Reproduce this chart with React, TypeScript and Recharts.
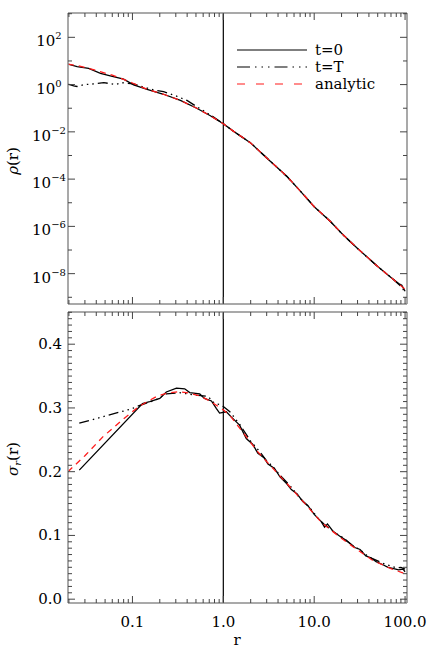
import { LineChart, Line, XAxis, YAxis, ReferenceLine } from 'recharts';

// ---- axes ----
const X_DOMAIN = [0.01954, 105];
const X_MAJOR = [0.1, 1, 10, 100];
const X_TICKS = [
  0.02, 0.03, 0.04, 0.05, 0.06, 0.07, 0.08, 0.09,
  0.1, 0.2, 0.3, 0.4, 0.5, 0.6, 0.7, 0.8, 0.9,
  1, 2, 3, 4, 5, 6, 7, 8, 9,
  10, 20, 30, 40, 50, 60, 70, 80, 90, 100,
];
const RHO_DOMAIN = [5.2e-10, 1070];
const RHO_TICKS = [1e-9, 1e-8, 1e-7, 1e-6, 1e-5, 1e-4, 1e-3, 1e-2, 1e-1, 1, 10, 100, 1000];
const RHO_LABELED = [1e-8, 1e-6, 1e-4, 1e-2, 1, 100];
const SIG_DOMAIN = [-0.006, 0.4505];
const SIG_MAJOR = [0, 0.1, 0.2, 0.3, 0.4];
const SIG_TICKS = Array.from({ length: 46 }, (_, i) => i / 100);

// ---- density, top panel ----
const rhoInitR = [0.0195, 0.0246, 0.033, 0.0445, 0.057, 0.08, 0.103, 0.145, 0.22, 0.337, 0.51, 0.72, 1, 1.3, 2, 3, 5, 7, 10, 15, 20, 30, 50, 70, 85, 92, 100];
const rhoInit = [7.4, 5.75, 4.9, 3.0, 2.35, 1.7, 0.98, 0.63, 0.39, 0.214, 0.1, 0.048, 0.022, 0.0105, 3.4e-3, 7.9e-4, 1.32e-4, 3.2e-5, 6.8e-6, 1.66e-6, 5.1e-7, 1.17e-7, 2.0e-8, 6.9e-9, 3.8e-9, 3.2e-9, 1.8e-9];

const rhoFinalR = [0.0195, 0.0226, 0.0246, 0.0292, 0.0376, 0.0484, 0.057, 0.065, 0.077, 0.103, 0.133, 0.171, 0.22, 0.309, 0.398, 0.51, 0.72, 1, 1.3, 2, 3, 5, 7, 10, 15, 20, 30, 50, 70, 85, 95, 100];
const rhoFinal = [1.05, 0.89, 0.83, 1.0, 1.07, 1.2, 1.1, 1.0, 1.2, 1.07, 0.78, 0.6, 0.5, 0.32, 0.214, 0.117, 0.052, 0.0224, 0.0105, 3.4e-3, 8.0e-4, 1.3e-4, 3.2e-5, 6.9e-6, 1.65e-6, 5.0e-7, 1.15e-7, 2.0e-8, 7.0e-9, 3.6e-9, 2.2e-9, 1.5e-9];

const rhoAnaR = [0.0195, 0.025, 0.033, 0.045, 0.06, 0.08, 0.1, 0.145, 0.22, 0.337, 0.51, 0.72, 1, 1.3, 2, 3, 5, 7, 10, 15, 20, 30, 50, 70, 100];
const rhoAna = [7.4, 6.3, 4.9, 3.45, 2.5, 1.66, 1.17, 0.63, 0.39, 0.214, 0.1, 0.048, 0.022, 0.0105, 3.4e-3, 7.9e-4, 1.32e-4, 3.2e-5, 6.8e-6, 1.66e-6, 5.1e-7, 1.17e-7, 2.0e-8, 6.9e-9, 2.2e-9];

// ---- radial dispersion, bottom panel ----
const sigInitR = [0.026, 0.129, 0.155, 0.2, 0.236, 0.305, 0.376, 0.427, 0.55, 0.62, 0.74, 0.84, 0.91, 1.08, 1.22, 1.51, 1.79, 2.1, 2.4, 2.8, 3.1, 3.66, 4.2, 5, 5.6, 6.5, 7.5, 8.5, 10, 11.9, 13, 14, 16, 19, 22, 24.4, 28, 32, 37, 42, 48, 57, 65, 75, 85, 95, 100];
const sigInit = [0.2025, 0.307, 0.31, 0.315, 0.325, 0.331, 0.33, 0.324, 0.322, 0.315, 0.311, 0.299, 0.292, 0.294, 0.286, 0.273, 0.252, 0.243, 0.229, 0.222, 0.212, 0.205, 0.192, 0.181, 0.172, 0.165, 0.153, 0.147, 0.133, 0.122, 0.113, 0.118, 0.107, 0.099, 0.093, 0.088, 0.081, 0.078, 0.068, 0.065, 0.059, 0.054, 0.05, 0.048, 0.046, 0.047, 0.043];

const sigFinalR = [0.026, 0.1, 0.11, 0.183, 0.236, 0.33, 0.5, 0.68, 0.8, 0.95, 1.18, 1.5, 2, 2.5, 3, 3.5, 4.5, 5.5, 7, 9, 11, 13, 17, 21, 26, 33, 40, 50, 60, 70, 80, 90, 100];
const sigFinal = [0.276, 0.299, 0.302, 0.313, 0.322, 0.324, 0.32, 0.318, 0.307, 0.305, 0.294, 0.275, 0.248, 0.232, 0.217, 0.208, 0.19, 0.177, 0.158, 0.143, 0.127, 0.117, 0.104, 0.096, 0.085, 0.076, 0.066, 0.06, 0.055, 0.052, 0.049, 0.05, 0.047];

const sigAnaR = [0.0195, 0.03, 0.0475, 0.08, 0.12, 0.184, 0.236, 0.33, 0.43, 0.55, 0.71, 1, 1.2, 1.58, 2.4, 3.66, 5.59, 8.5, 11.9, 18.9, 27, 43.8, 70, 100];
const sigAna = [0.2, 0.225, 0.255, 0.283, 0.303, 0.318, 0.323, 0.3255, 0.323, 0.319, 0.311, 0.297, 0.287, 0.265, 0.231, 0.2025, 0.174, 0.145, 0.121, 0.098, 0.082, 0.061, 0.048, 0.04];

const pts = (rs: number[], vs: number[]) => rs.map((r, i) => ({ r, v: vs[i] }));

const FONT = '"DejaVu Serif", serif';
const FRAME = '#8c8c8c';
const TICK = '#444';
const RED = '#ff1a1a';
const DASH_T = '10 4 1.5 4 1.5 4 1.5 4';
const DASH_A = '6 5';

function XTick(props: any) {
  const { x, y, payload, side, labels } = props;
  const major = X_MAJOR.includes(payload.value);
  const dir = side === 'bottom' ? -1 : 1;
  return (
    <g>
      <line x1={x} x2={x} y1={y} y2={y + dir * (major ? 7 : 4)} stroke={TICK} />
      {labels && major && (
        <text x={x} y={y + 24} textAnchor="middle" fontSize={15} fontFamily={FONT} fill="#000">
          {payload.value.toFixed(1)}
        </text>
      )}
    </g>
  );
}

function RhoTick(props: any) {
  const { x, y, payload, side } = props;
  const v = payload.value;
  const major = RHO_LABELED.some((m) => Math.abs(Math.log10(m) - Math.log10(v)) < 0.01);
  const dir = side === 'left' ? 1 : -1;
  const exp = Math.round(Math.log10(v));
  return (
    <g>
      <line x1={x} x2={x + dir * (major ? 7 : 4)} y1={y} y2={y} stroke={TICK} />
      {side === 'left' && major && (
        <text x={49} y={y + 9} textAnchor="middle" fontSize={15} fontFamily={FONT} fill="#000">
          10
          <tspan dy={-7} fontSize={10}>{exp < 0 ? '\u2212' + -exp : String(exp)}</tspan>
        </text>
      )}
    </g>
  );
}

function SigTick(props: any) {
  const { x, y, payload, side } = props;
  const v = payload.value;
  const major = SIG_MAJOR.some((m) => Math.abs(m - v) < 1e-6);
  const dir = side === 'left' ? 1 : -1;
  return (
    <g>
      <line x1={x} x2={x + dir * (major ? 7 : 4)} y1={y} y2={y} stroke={TICK} />
      {side === 'left' && major && (
        <text x={62} y={y + 5} textAnchor="end" fontSize={15} fontFamily={FONT} fill="#000">
          {v.toFixed(1)}
        </text>
      )}
    </g>
  );
}

const xAxes = (labels: boolean) => [
  <XAxis
    key="b"
    xAxisId="b"
    orientation="bottom"
    type="number"
    dataKey="r"
    scale="log"
    domain={X_DOMAIN}
    allowDataOverflow
    ticks={X_TICKS}
    interval={0}
    height={1}
    tickSize={0}
    tickMargin={0}
    tickLine={false}
    axisLine={{ stroke: FRAME, strokeWidth: 1.5 }}
    tick={(p: any) => <XTick {...p} side="bottom" labels={labels} />}
  />,
  <XAxis
    key="t"
    xAxisId="t"
    orientation="top"
    type="number"
    dataKey="r"
    scale="log"
    domain={X_DOMAIN}
    allowDataOverflow
    ticks={X_TICKS}
    interval={0}
    height={1}
    tickSize={0}
    tickMargin={0}
    tickLine={false}
    axisLine={{ stroke: FRAME, strokeWidth: 1.5 }}
    tick={(p: any) => <XTick {...p} side="top" labels={false} />}
  />,
];

export default function App() {
  return (
    <div style={{ position: 'absolute', left: 0, top: 0, width: 436, height: 654, background: '#fff', fontFamily: FONT }}>
      {/* density panel */}
      <div style={{ position: 'absolute', left: 0, top: 0 }}>
        <LineChart width={436} height={320} margin={{ top: 12, right: 28, bottom: 15, left: 0 }}>
          {xAxes(false)}
          <YAxis
            yAxisId="l"
            orientation="left"
            type="number"
            scale="log"
            domain={RHO_DOMAIN}
            allowDataOverflow
            ticks={RHO_TICKS}
            interval={0}
            width={68}
            tickSize={0}
            tickMargin={0}
            tickLine={false}
            axisLine={{ stroke: FRAME, strokeWidth: 1.5 }}
            tick={(p: any) => <RhoTick {...p} side="left" />}
          />
          <YAxis
            yAxisId="r"
            orientation="right"
            type="number"
            scale="log"
            domain={RHO_DOMAIN}
            allowDataOverflow
            ticks={RHO_TICKS}
            interval={0}
            width={1}
            tickSize={0}
            tickMargin={0}
            tickLine={false}
            axisLine={{ stroke: FRAME, strokeWidth: 1.5 }}
            tick={(p: any) => <RhoTick {...p} side="right" />}
          />
          <ReferenceLine xAxisId="b" yAxisId="l" x={1} stroke="#000" strokeWidth={1.2} />
          <Line xAxisId="b" yAxisId="l" data={pts(rhoInitR, rhoInit)} dataKey="v" type="linear" stroke="#000" strokeWidth={1.3} dot={false} isAnimationActive={false} />
          <Line xAxisId="b" yAxisId="l" data={pts(rhoFinalR, rhoFinal)} dataKey="v" type="linear" stroke="#000" strokeWidth={1.3} strokeDasharray={DASH_T} dot={false} isAnimationActive={false} />
          <Line xAxisId="b" yAxisId="l" data={pts(rhoAnaR, rhoAna)} dataKey="v" type="linear" stroke={RED} strokeWidth={1.3} strokeDasharray={DASH_A} dot={false} isAnimationActive={false} />

          {/* legend */}
          <g fontFamily={FONT} fontSize={15} fill="#000">
            <line x1={237} x2={307} y1={50} y2={50} stroke="#000" strokeWidth={1.2} />
            <text x={315} y={55}>t=0</text>
            <line x1={237} x2={307} y1={67} y2={67} stroke="#000" strokeWidth={1.2} strokeDasharray="13 5 1.5 5 1.5 5 1.5 5" />
            <text x={315} y={72}>t=T</text>
            <line x1={237} x2={307} y1={84} y2={84} stroke={RED} strokeWidth={1.2} strokeDasharray="8 11" />
            <text x={315} y={89}>analytic</text>
          </g>
          <text transform="translate(18,161) rotate(-90)" textAnchor="middle" fontFamily={FONT} fontSize={15} fill="#000">
            <tspan fontStyle="italic">ρ</tspan>(r)
          </text>
        </LineChart>
      </div>

      {/* dispersion panel */}
      <div style={{ position: 'absolute', left: 0, top: 308 }}>
        <LineChart width={436} height={346} margin={{ top: 3, right: 28, bottom: 50, left: 0 }}>
          {xAxes(true)}
          <YAxis
            yAxisId="l"
            orientation="left"
            type="number"
            domain={SIG_DOMAIN}
            allowDataOverflow
            ticks={SIG_TICKS}
            interval={0}
            width={68}
            tickSize={0}
            tickMargin={0}
            tickLine={false}
            axisLine={{ stroke: FRAME, strokeWidth: 1.5 }}
            tick={(p: any) => <SigTick {...p} side="left" />}
          />
          <YAxis
            yAxisId="r"
            orientation="right"
            type="number"
            domain={SIG_DOMAIN}
            allowDataOverflow
            ticks={SIG_TICKS}
            interval={0}
            width={1}
            tickSize={0}
            tickMargin={0}
            tickLine={false}
            axisLine={{ stroke: FRAME, strokeWidth: 1.5 }}
            tick={(p: any) => <SigTick {...p} side="right" />}
          />
          <ReferenceLine xAxisId="b" yAxisId="l" x={1} stroke="#000" strokeWidth={1.2} />
          <Line xAxisId="b" yAxisId="l" data={pts(sigInitR, sigInit)} dataKey="v" type="linear" stroke="#000" strokeWidth={1.3} dot={false} isAnimationActive={false} />
          <Line xAxisId="b" yAxisId="l" data={pts(sigFinalR, sigFinal)} dataKey="v" type="linear" stroke="#000" strokeWidth={1.3} strokeDasharray={DASH_T} dot={false} isAnimationActive={false} />
          <Line xAxisId="b" yAxisId="l" data={pts(sigAnaR, sigAna)} dataKey="v" type="linear" stroke={RED} strokeWidth={1.3} strokeDasharray={DASH_A} dot={false} isAnimationActive={false} />

          <text transform="translate(18,151) rotate(-90)" textAnchor="middle" fontFamily={FONT} fontSize={15} fill="#000">
            <tspan fontStyle="italic">σ</tspan>
            <tspan fontStyle="italic" fontSize={10} dy={3}>r</tspan>
            <tspan dy={-3}>(r)</tspan>
          </text>
          <text x={237} y={337} textAnchor="middle" fontFamily={FONT} fontSize={15} fill="#000">r</text>
        </LineChart>
      </div>
    </div>
  );
}
